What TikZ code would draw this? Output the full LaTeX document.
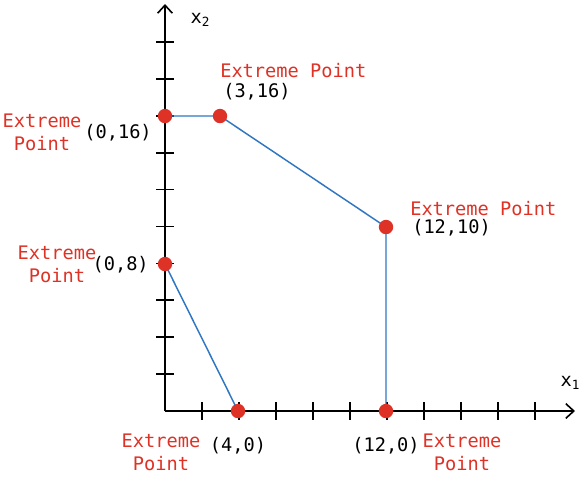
\documentclass[tikz,border=0pt]{standalone}
\usepackage{fontspec}
\setmainfont{DejaVu Sans Mono}
\usetikzlibrary{arrows.meta}
\definecolor{ptred}{RGB}{222,50,38}
\definecolor{lblred}{RGB}{222,50,38}
\definecolor{segblue}{RGB}{48,118,192}
\begin{document}
\begin{tikzpicture}[x=0.75pt,y=-0.75pt,
  axis/.style={line width=1.3pt,black,-{Straight Barb[length=6pt,width=11pt,line width=1.2pt]}},
  tick/.style={line width=1.3pt,black},
  seg/.style={line width=1.1pt,segblue},
  dot/.style={circle,fill=ptred,inner sep=0pt,minimum size=10.8pt},
  lbl/.style={font=\fontsize{14pt}{17.3pt}\selectfont,lblred,inner sep=0pt,align=center},
  crd/.style={font=\fontsize{14pt}{17.3pt}\selectfont,black,inner sep=0pt},
  axl/.style={font=\fontsize{14pt}{16pt}\selectfont,black,inner sep=0pt}]
\useasboundingbox (0,0) rectangle (582,476);
% axes
\coordinate (O) at (165,411);
\coordinate (Xend) at (575,411);
\coordinate (Yend) at (165,4);
\draw[axis] (O) -- (Xend);
\draw[axis] (O) -- (Yend);
% ticks
\foreach \i in {1,...,10} {
  \draw[tick] (165+37*\i,402) -- (165+37*\i,420);
  \draw[tick] (156,411-36.9*\i) -- (174,411-36.9*\i);
}
% axis labels
\node[axl] (x1) at (570,383) {x\raisebox{-0.35ex}{\fontsize{9.5pt}{9.5pt}\selectfont 1}};
\node[axl] (x2) at (200,20) {x\raisebox{-0.35ex}{\fontsize{9.5pt}{9.5pt}\selectfont 2}};
% points
\coordinate (A) at (165,116);
\coordinate (B) at (220,116);
\coordinate (C) at (386,227);
\coordinate (D) at (386,411);
\coordinate (E) at (238,411);
\coordinate (F) at (165,264);
% segments
\draw[seg] (A) -- (B) -- (C) -- (D);
\draw[seg] (F) -- (E);
\node[dot] (dA) at (A) {};
\node[dot] (dB) at (B) {};
\node[dot] (dC) at (C) {};
\node[dot] (dD) at (D) {};
\node[dot] (dE) at (E) {};
\node[dot] (dF) at (F) {};
% labels
\node[lbl,anchor=west] (lB) at (220,71) {Extreme Point};
\node[crd,anchor=west] (cB) at (223,92) {(3,16)};
\node[lbl] (lA) at (42,132) {Extreme\\Point};
\node[crd,anchor=east] (cA) at (152,133) {(0,16)};
\node[lbl] (lF) at (57,264) {Extreme\\Point};
\node[crd,anchor=east] (cF) at (149,265) {(0,8)};
\node[lbl,anchor=west] (lC) at (410,209) {Extreme Point};
\node[crd,anchor=west] (cC) at (412,228) {(12,10)};
\node[crd] (cE) at (238,446) {(4,0)};
\node[lbl] (lE) at (161,452) {Extreme\\Point};
\node[crd] (cD) at (386,446) {(12,0)};
\node[lbl] (lD) at (462,452) {Extreme\\Point};
\end{tikzpicture}
\end{document}
